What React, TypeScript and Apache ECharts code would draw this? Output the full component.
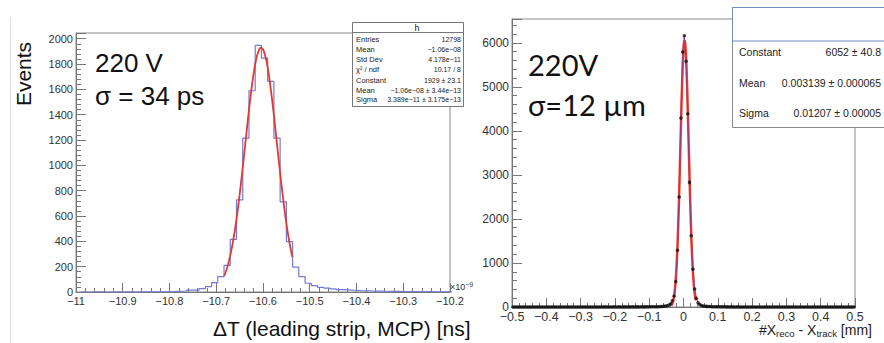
import React, { useEffect, useRef } from "react";
import * as echarts from "echarts";

// ---------- Left panel: ΔT histogram ----------
const dtAxisMin = -11;
const dtAxisMax = -10.2;
const dtBinLow = -10.99;
const dtBinWidth = 0.8 / 60;
const dtCounts = [
  0, 0, 1, 0, 0, 1, 0, 1, 0, 1,
  1, 2, 1, 2, 3, 6, 8, 15, 15, 26,
  42, 74, 121, 210, 416, 727, 1215, 1589, 1947, 1847,
  1663, 1215, 712, 398, 196, 121, 69, 50, 37, 30,
  24, 18, 16, 14, 11, 10, 8, 7, 6, 5,
  5, 4, 3, 4, 2, 3, 2, 2, 1, 2,
];
const dtFitConstant = 1929;
const dtFitMean = -10.604;
const dtFitSigma = 0.03389;
const dtFitLow = -10.683;
const dtFitHigh = -10.537;
const dtYMax = 2045;
const dtStatsLabels = ["Entries", "Mean", "Std Dev", "χ² / ndf", "Constant", "Mean", "Sigma"];
const dtStatsValues = [
  "12798",
  "−1.06e−08",
  "4.178e−11",
  "10.17 / 8",
  "1929 ± 23.1",
  "−1.06e−08 ± 3.44e−13",
  "3.389e−11 ± 3.175e−13",
];

// ---------- Right panel: X residual ----------
const xrBinLow = -0.5;
const xrBinWidth = 0.005;
const xrCounts = [
  1, 0, 1, 2, 0, 1, 1, 0, 2, 1, 1, 0, 1, 1, 2, 0, 1, 1, 0, 1,
  2, 1, 0, 1, 1, 2, 1, 0, 1, 2, 1, 1, 2, 0, 1, 2, 1, 1, 0, 2,
  1, 2, 1, 1, 2, 1, 0, 2, 1, 2, 2, 1, 2, 1, 3, 1, 2, 2, 1, 3,
  2, 2, 3, 1, 2, 3, 2, 2, 3, 2, 3, 2, 3, 3, 2, 4, 3, 3, 4, 3,
  4, 5, 4, 6, 7, 8, 9,
  12, 16, 22, 30, 45, 75, 140, 250, 580, 1290, 2500, 4290, 5790,
  6160, 5580, 4390, 2830, 1620, 860, 410, 200, 95, 55, 35, 25, 18, 14, 11, 9,
  8, 6, 5, 5,
  4, 4, 3, 4, 3, 3, 2, 3, 3, 2, 2, 3, 2, 2, 1, 2, 2, 1, 2, 2,
  1, 2, 1, 1, 2, 1, 2, 1, 1, 0, 1, 2, 1, 1, 0, 1, 1, 2, 1, 0,
  1, 1, 0, 1, 1, 2, 0, 1, 1, 0, 1, 0, 1, 1, 0, 1, 2, 0, 1, 1,
  0, 1, 0, 1, 1, 0, 1, 0, 0, 1, 1, 0, 1, 0, 1, 0, 0, 1, 0, 1,
];
const xrFitConstant = 6052;
const xrFitMean = 0.003139;
const xrFitSigma = 0.01207;
const xrFitLow = -0.036;
const xrFitHigh = 0.036;
const xrYMax = 6540;
const xrStatsLabels = ["Constant", "Mean", "Sigma"];
const xrStatsValues = ["6052 ± 40.8", "0.003139 ± 0.000065", "0.01207 ± 0.00005"];

const ROOT_FONT = '"Liberation Sans", Arial, sans-serif';

function gauss(c: number, m: number, s: number, lo: number, hi: number, n: number) {
  const pts: number[][] = [];
  for (let i = 0; i <= n; i++) {
    const x = lo + ((hi - lo) * i) / n;
    pts.push([x, c * Math.exp(-0.5 * ((x - m) / s) ** 2)]);
  }
  return pts;
}

const fmt1 = (v: number) => {
  const s = Number(v.toFixed(1)).toString();
  return s === "-0" ? "0" : s.replace("-", "−");
};
const fmtInt = (v: number) => String(Math.round(v));

export default function App() {
  const ref = useRef<HTMLDivElement>(null);
  useEffect(() => {
    if (!ref.current) return;
    const chart = echarts.init(ref.current, undefined, { renderer: "svg" });

    const dtStep: number[][] = dtCounts.map((c, i) => [dtBinLow + i * dtBinWidth, c]);
    dtStep.push([dtBinLow + dtCounts.length * dtBinWidth, dtCounts[dtCounts.length - 1]]);
    const xrPts = xrCounts.map((c, i) => [xrBinLow + (i + 0.5) * xrBinWidth, c]);

    const axisCommonX = (gi: number, min: number, max: number, fs: number) => ({
      type: "value",
      gridIndex: gi,
      min,
      max,
      interval: 0.1,
      axisLine: { show: true, onZero: false, lineStyle: { color: "#777", width: 1 } },
      axisTick: { show: true, inside: true, length: 9, lineStyle: { color: "#777" } },
      minorTick: { show: true, splitNumber: 5, length: 4, lineStyle: { color: "#777" } },
      splitLine: { show: false },
      axisLabel: {
        formatter: fmt1,
        color: "#333",
        fontFamily: ROOT_FONT,
        fontSize: fs,
        margin: 3,
      },
    });
    const axisCommonY = (gi: number, max: number, interval: number, fs: number) => ({
      type: "value",
      gridIndex: gi,
      min: 0,
      max,
      interval,
      axisLine: { show: true, onZero: false, lineStyle: { color: "#777", width: 1 } },
      axisTick: { show: true, inside: true, length: 10, lineStyle: { color: "#777" } },
      minorTick: { show: true, splitNumber: 5, length: 5, lineStyle: { color: "#777" } },
      splitLine: { show: false },
      axisLabel: {
        formatter: fmtInt,
        showMaxLabel: false,
        color: "#333",
        fontFamily: ROOT_FONT,
        fontSize: fs,
        margin: 3,
      },
    });

    const statsLeft: any[] = [
      {
        type: "rect",
        z: 100,
        shape: { x: 352.5, y: 22.5, width: 111, height: 84 },
        style: { fill: "#fff", stroke: "#777", lineWidth: 1 },
      },
      {
        type: "line",
        z: 101,
        shape: { x1: 352.5, y1: 32.5, x2: 463.5, y2: 32.5 },
        style: { stroke: "#777", lineWidth: 1 },
      },
      {
        type: "text",
        z: 101,
        x: 417,
        y: 27.5,
        style: { text: "h", font: `9px ${ROOT_FONT}`, fill: "#222", align: "center", verticalAlign: "middle" },
      },
    ];
    const dtRowY = [39, 49, 59.5, 69.5, 80, 90, 99.5];
    dtStatsLabels.forEach((lab, i) => {
      statsLeft.push({
        type: "text",
        z: 101,
        x: 356,
        y: dtRowY[i],
        style: { text: lab, font: `7.5px ${ROOT_FONT}`, fill: "#222", verticalAlign: "middle" },
      });
      statsLeft.push({
        type: "text",
        z: 101,
        x: 461,
        y: dtRowY[i],
        style: { text: dtStatsValues[i], font: `7px ${ROOT_FONT}`, fill: "#222", align: "right", verticalAlign: "middle" },
      });
    });

    const statsRight: any[] = [
      {
        type: "rect",
        z: 100,
        shape: { x: 732.5, y: 7.5, width: 170, height: 120 },
        style: { fill: "#fff", stroke: "#888", lineWidth: 1 },
      },
      {
        type: "rect",
        z: 101,
        shape: { x: 732.5, y: 7.5, width: 170, height: 33.5 },
        style: { fill: "#fff", stroke: "#6d8cbf", lineWidth: 1 },
      },
    ];
    const xrRowY = [52, 83, 113];
    xrStatsLabels.forEach((lab, i) => {
      statsRight.push({
        type: "text",
        z: 101,
        x: 739,
        y: xrRowY[i],
        style: { text: lab, font: `10.5px ${ROOT_FONT}`, fill: "#222", verticalAlign: "middle" },
      });
      statsRight.push({
        type: "text",
        z: 101,
        x: 881,
        y: xrRowY[i],
        style: { text: xrStatsValues[i], font: `10.5px ${ROOT_FONT}`, fill: "#222", align: "right", verticalAlign: "middle" },
      });
    });

    const option: any = {
      animation: false,
      backgroundColor: "#ffffff",
      grid: [
        { left: 76, top: 33, width: 374, height: 259, show: true, borderColor: "#888", borderWidth: 1 },
        { left: 512, top: 19, width: 343, height: 288, show: true, borderColor: "#888", borderWidth: 1 },
      ],
      xAxis: [axisCommonX(0, dtAxisMin, dtAxisMax, 11), axisCommonX(1, -0.5, 0.5, 12.5)],
      yAxis: [axisCommonY(0, dtYMax, 200, 11), axisCommonY(1, xrYMax, 1000, 12)],
      series: [
        {
          type: "line",
          xAxisIndex: 0,
          yAxisIndex: 0,
          data: dtStep,
          step: "end",
          showSymbol: false,
          lineStyle: { color: "#7479d6", width: 1.2 },
          z: 2,
        },
        {
          type: "line",
          xAxisIndex: 0,
          yAxisIndex: 0,
          data: gauss(dtFitConstant, dtFitMean, dtFitSigma, dtFitLow, dtFitHigh, 120),
          showSymbol: false,
          lineStyle: { color: "#e23a30", width: 1.8 },
          z: 3,
        },
        {
          type: "line",
          xAxisIndex: 1,
          yAxisIndex: 1,
          data: gauss(xrFitConstant, xrFitMean, xrFitSigma, xrFitLow, xrFitHigh, 200),
          showSymbol: false,
          lineStyle: { color: "#ee3b2c", width: 2.5 },
          z: 2,
        },
        {
          type: "line",
          xAxisIndex: 1,
          yAxisIndex: 1,
          data: xrPts,
          showSymbol: false,
          lineStyle: { color: "#9a3d7c", width: 1 },
          z: 3,
        },
        {
          type: "scatter",
          xAxisIndex: 1,
          yAxisIndex: 1,
          data: xrPts,
          symbol: "circle",
          symbolSize: 3.5,
          itemStyle: { color: "#111" },
          z: 4,
        },
      ],
      graphic: [
        {
          type: "line",
          shape: { x1: 10.5, y1: 17, x2: 10.5, y2: 343 },
          style: { stroke: "#dcdcdc", lineWidth: 1 },
        },
        {
          type: "text",
          x: 23,
          y: 74,
          rotation: Math.PI / 2,
          style: { text: "Events", font: `21px ${ROOT_FONT}`, fill: "#111", align: "center", verticalAlign: "middle" },
        },
        {
          type: "text",
          x: 95,
          y: 63,
          style: { text: "220 V", font: `26px ${ROOT_FONT}`, fill: "#111", verticalAlign: "middle" },
        },
        {
          type: "text",
          x: 95,
          y: 96,
          style: { text: "σ = 34 ps", font: `26px ${ROOT_FONT}`, fill: "#111", verticalAlign: "middle" },
        },
        {
          type: "text",
          x: 213,
          y: 328,
          style: { text: "ΔT (leading strip, MCP) [ns]", font: `21px ${ROOT_FONT}`, fill: "#111", verticalAlign: "middle" },
        },
        {
          type: "text",
          x: 450,
          y: 287,
          style: {
            text: "{a|×10}{b|−9}",
            verticalAlign: "middle",
            rich: {
              a: { font: `9px ${ROOT_FONT}`, fill: "#333" },
              b: { font: `7px ${ROOT_FONT}`, fill: "#333", verticalAlign: "top", padding: [0, 0, 6, 0] },
            },
          },
        },
        {
          type: "text",
          x: 528,
          y: 64,
          style: { text: "220V", font: `29px Lato, "Open Sans", sans-serif`, fill: "#111", verticalAlign: "middle" },
        },
        {
          type: "text",
          x: 528,
          y: 104,
          style: { text: "σ=12 µm", font: `29px Lato, "Open Sans", sans-serif`, fill: "#111", verticalAlign: "middle" },
        },
        {
          type: "text",
          x: 759,
          y: 330,
          style: {
            text: "{a|#X}{s|reco}{a| - X}{s|track}{a| [mm]}",
            verticalAlign: "middle",
            rich: {
              a: { font: `14px ${ROOT_FONT}`, fill: "#222" },
              s: { font: `9.5px ${ROOT_FONT}`, fill: "#222", padding: [6, 0, 0, 0] },
            },
          },
        },
        ...statsLeft,
        ...statsRight,
      ],
    };
    chart.setOption(option);
    return () => chart.dispose();
  }, []);
  return (
    <div
      ref={ref}
      style={{ position: "fixed", left: 0, top: 0, width: 884, height: 343, background: "#fff" }}
    />
  );
}
